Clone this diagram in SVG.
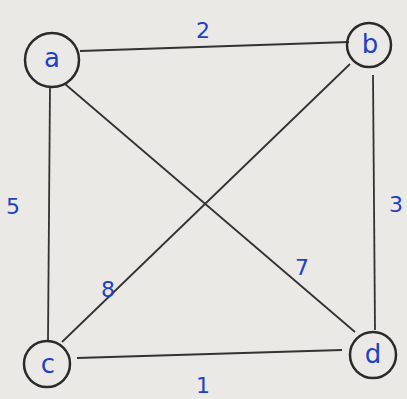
<svg xmlns="http://www.w3.org/2000/svg" width="407" height="399" viewBox="0 0 407 399">
<style>
.bg{fill:#ebe9e5}
.node circle{fill:none;stroke:#2a2a2a;stroke-width:2.5}
.node text{font-family:"DejaVu Sans",sans-serif;font-size:26px;fill:#1f3fc4;text-anchor:middle;dominant-baseline:central}
.edges line{stroke:#333;stroke-width:1.8}
.lbl{font-family:"DejaVu Sans",sans-serif;font-size:22px;fill:#1f3fc4;text-anchor:middle;dominant-baseline:central}
</style>
<rect class="bg" x="0" y="0" width="407" height="399"/>
<g id="connectors" class="edges">
<line x1="80" y1="51" x2="349" y2="42"/>
<line x1="50" y1="86" x2="48" y2="340"/>
<line x1="65" y1="84" x2="355" y2="332"/>
<line x1="350" y1="64" x2="62" y2="342"/>
<line x1="373" y1="75" x2="375" y2="330"/>
<line x1="77" y1="358" x2="342" y2="350"/>
</g>
<g id="node-a" class="node"><circle cx="52" cy="60" r="27"/><text x="52" y="58">a</text></g>
<g id="node-b" class="node"><circle cx="369" cy="45" r="22"/><text x="370" y="44">b</text></g>
<g id="node-c" class="node"><circle cx="47" cy="364" r="23"/><text x="48" y="364">c</text></g>
<g id="node-d" class="node"><circle cx="373" cy="355" r="23"/><text x="373" y="354">d</text></g>
<g id="labels">
<text class="lbl" x="203" y="30">2</text>
<text class="lbl" x="13" y="206">5</text>
<text class="lbl" x="396" y="204">3</text>
<text class="lbl" x="302" y="267">7</text>
<text class="lbl" x="108" y="289">8</text>
<text class="lbl" x="203" y="385">1</text>
</g>
</svg>
